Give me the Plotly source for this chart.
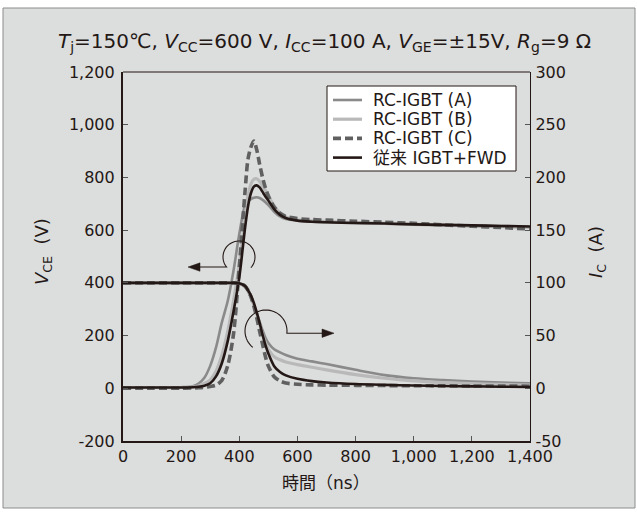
import numpy as np
import plotly.graph_objects as go

# Turn-off waveforms: collector-emitter voltage (left axis) and collector current (right axis)
time_ns = [0, 100, 200, 240, 260, 280, 300, 320, 340, 360, 380, 400, 420, 430, 440, 450,
           460, 470, 480, 490, 500, 520, 540, 560, 600, 650, 700, 800, 900, 1000, 1100,
           1200, 1300, 1400]

vce_a = [3, 3, 4, 8, 18, 40, 85, 155, 250, 330, 445, 585, 695, 710, 718, 723,
         725, 722, 715, 706, 695, 670, 652, 642, 636, 632, 630, 627, 624, 621, 618,
         615, 613, 611]
vce_b = [3, 3, 3, 5, 9, 18, 32, 65, 125, 215, 330, 470, 650, 730, 775, 793,
         795, 785, 768, 750, 730, 692, 665, 650, 639, 635, 633, 629, 626, 623, 620,
         617, 615, 612]
vce_c = [0, 0, 0, 1, 2, 4, 7, 12, 30, 85, 205, 460, 750, 870, 915, 938,
         905, 850, 800, 760, 730, 688, 664, 652, 644, 640, 638, 634, 630, 626, 620,
         615, 610, 604]
vce_conv = [3, 3, 3, 4, 6, 10, 19, 45, 95, 178, 290, 420, 610, 690, 740, 765,
            770, 762, 745, 728, 712, 680, 658, 646, 636, 632, 630, 627, 625, 622, 620,
            618, 616, 614]

ic_a = [100, 100, 100, 100, 100, 100, 100, 100, 100, 100, 100, 99.5, 96, 92, 86, 79,
        71, 63, 55, 48, 43, 37, 34, 31.5, 28, 25.5, 23, 17.5, 12.5, 9.5, 7.8,
        6.5, 5.5, 4.7]
ic_b = [100, 100, 100, 100, 100, 100, 100, 100, 100, 100, 100, 99.5, 96.5, 93, 87.5, 80,
        71, 61, 51, 43, 37, 30, 27, 25, 22.5, 20, 17.5, 13, 9.5, 7, 5.5,
        4.5, 3.7, 3]
ic_c = [100, 100, 100, 100, 100, 100, 100, 100, 100, 100, 100, 99.5, 97, 93, 87, 78,
        67, 54, 42, 30, 21, 11, 7, 5, 3.8, 3.2, 3, 2.8, 2.6, 2.4, 2.3,
        2.2, 2.1, 2]
ic_conv = [100, 100, 100, 100, 100, 100, 100, 100, 100, 100, 100, 99.5, 97, 93, 88, 81,
           72, 62, 51, 41, 33, 21, 15.5, 12.3, 9, 6.8, 5.5, 4, 3.2, 2.6, 2.2,
           1.8, 1.5, 1.2]

series_names = ["RC-IGBT (A)", "RC-IGBT (B)", "RC-IGBT (C)", "従来 IGBT+FWD"]

x_ticks = [0, 200, 400, 600, 800, 1000, 1200, 1400]
x_ticktext = ["0", "200", "400", "600", "800", "1,000", "1,200", "1,400"]
v_ticks = [-200, 0, 200, 400, 600, 800, 1000, 1200]
v_ticktext = ["-200", "0", "200", "400", "600", "800", "1,000", "1,200"]
i_ticks = [-50, 0, 50, 100, 150, 200, 250, 300]
i_ticktext = ["-50", "0", "50", "100", "150", "200", "250", "300"]

INK = "#231815"
FONT = "DejaVu Sans, Noto Sans CJK JP"
W, H = 637, 513
L, R, T, B = 123, 530, 72, 441          # plot area edges in pixels
X_RANGE = [0, 1400]
V_RANGE = [-200, 1200]

styles = [
    dict(color="#8a8a8a", width=2.6),
    dict(color="#b9b9b9", width=3.2),
    dict(color="#606060", width=3.6, dash="8px,4px"),
    dict(color=INK, width=2.6),
]

fig = go.Figure()
for name, v, i, st in zip(series_names, [vce_a, vce_b, vce_c, vce_conv],
                          [ic_a, ic_b, ic_c, ic_conv], styles):
    fig.add_trace(go.Scatter(x=time_ns, y=v, mode="lines", name=name, legendgroup=name,
                             line=dict(shape="spline", smoothing=0.8, **st)))
    fig.add_trace(go.Scatter(x=time_ns, y=i, mode="lines", name=name, legendgroup=name,
                             yaxis="y2", line=dict(shape="spline", smoothing=0.8, **st)))


def to_data(px, py):
    """Pixel position -> (time, voltage) in the primary axes."""
    t = X_RANGE[0] + (px - L) / (R - L) * (X_RANGE[1] - X_RANGE[0])
    v = V_RANGE[1] - (py - T) / (B - T) * (V_RANGE[1] - V_RANGE[0])
    return t, v


def to_paper(px, py):
    return (px - L) / (R - L), (B - py) / (B - T)


def loop_arrow(cx, cy, r, a0, a1, tip_x, direction):
    """Circular loop ending in a straight leader with a filled head."""
    ang = np.radians(np.linspace(a0, a1, 40))
    pts = [(cx + r * np.cos(a), cy - r * np.sin(a)) for a in ang]
    ex, ey = pts[-1]
    pts.append((tip_x - direction * 10, ey))
    d = ""
    for k, (px, py) in enumerate(pts):
        t, v = to_data(px, py)
        d += ("M" if k == 0 else "L") + f"{t:.2f},{v:.2f} "
    head = [(tip_x, ey), (tip_x - direction * 12, ey - 4.2), (tip_x - direction * 12, ey + 4.2)]
    hd = ""
    for k, (px, py) in enumerate(head):
        t, v = to_data(px, py)
        hd += ("M" if k == 0 else "L") + f"{t:.2f},{v:.2f} "
    hd += "Z"
    return [
        dict(type="path", xref="x", yref="y", path=d.strip(),
             line=dict(color=INK, width=1.1)),
        dict(type="path", xref="x", yref="y", path=hd,
             line=dict(color=INK, width=0.5), fillcolor=INK),
    ]


shapes = []
annotations = []

# grey panel with thin frame behind everything
x0, y0 = to_paper(3, 508)
x1, y1 = to_paper(635, 8)
shapes.append(dict(type="rect", xref="paper", yref="paper", x0=x0, y0=y0, x1=x1, y1=y1,
                   layer="below", fillcolor="#dcdddd", line=dict(color="#8c8c8c", width=1)))
# top edge of the plot frame
shapes.append(dict(type="line", xref="paper", yref="paper", x0=0, x1=1, y0=1, y1=1,
                   line=dict(color=INK, width=1.2)))
# loop arrows pointing at each axis
shapes += loop_arrow(239, 257, 16, -42, 219, 188, -1)
shapes += loop_arrow(266, 331, 21, 231, -6, 334, 1)

# legend box: line samples share the trace styles
bx0, by0 = to_paper(327, 171)
bx1, by1 = to_paper(516, 86)
shapes.append(dict(type="rect", xref="paper", yref="paper", x0=bx0, y0=by0, x1=bx1, y1=by1,
                   fillcolor="white", line=dict(color=INK, width=1)))
for k, (name, st) in enumerate(zip(series_names, styles)):
    row_y = 100 + 19.2 * k
    sx0, sy = to_paper(333, row_y)
    sx1, _ = to_paper(362, row_y)
    shapes.append(dict(type="line", xref="paper", yref="paper", x0=sx0, x1=sx1, y0=sy, y1=sy,
                       line=dict(color=st["color"], width=st["width"], dash=st.get("dash"))))
    tx0, _ = to_paper(371, row_y)
    annotations.append(dict(xref="paper", yref="paper", x=tx0, y=sy, showarrow=False,
                            xanchor="left", yanchor="middle", text=name,
                            font=dict(family=FONT, size=17, color=INK)))

tx, ty = to_paper(324, 42)
annotations.append(dict(
    xref="paper", yref="paper", x=tx, y=ty, showarrow=False, xanchor="center", yanchor="middle",
    text="<i>T</i><sub>j</sub>=150℃, <i>V</i><sub>CC</sub>=600 V, <i>I</i><sub>CC</sub>=100 A, "
         "<i>V</i><sub>GE</sub>=±15V, <i>R</i><sub>g</sub>=9 Ω",
    font=dict(family=FONT, size=20, color=INK)))
lx, ly = to_paper(43, 252)
annotations.append(dict(
    xref="paper", yref="paper", x=lx, y=ly, showarrow=False, textangle=-90,
    xanchor="center", yanchor="middle", text="<i>V</i><sub>CE</sub>  (V)",
    font=dict(family=FONT, size=18, color=INK)))
rx, ry = to_paper(597, 252)
annotations.append(dict(
    xref="paper", yref="paper", x=rx, y=ry, showarrow=False, textangle=-90,
    xanchor="center", yanchor="middle", text="<i>I</i><sub>C</sub>  (A)",
    font=dict(family=FONT, size=18, color=INK)))
bx, by = to_paper(326, 483)
annotations.append(dict(
    xref="paper", yref="paper", x=bx, y=by, showarrow=False,
    xanchor="center", yanchor="middle", text="時間（ns）",
    font=dict(family=FONT, size=17, color=INK)))

axis_common = dict(showgrid=False, zeroline=False, showline=True, linecolor=INK,
                   ticks="inside", ticklen=5, tickwidth=1, tickcolor="#555555",
                   tickfont=dict(family=FONT, size=16, color=INK))

fig.update_layout(
    width=W, height=H,
    margin=dict(l=L, r=W - R, t=T, b=H - B, pad=0),
    paper_bgcolor="white", plot_bgcolor="white",
    font=dict(family=FONT, color=INK),
    xaxis=dict(range=X_RANGE, tickvals=x_ticks, ticktext=x_ticktext, linewidth=2.2,
               **axis_common),
    yaxis=dict(range=V_RANGE, tickvals=v_ticks, ticktext=v_ticktext, linewidth=2.2,
               ticklabelstandoff=3, **axis_common),
    yaxis2=dict(range=[-50, 300], tickvals=i_ticks, ticktext=i_ticktext, overlaying="y",
                side="right", linewidth=1.4, ticklabelstandoff=1, **axis_common),
    shapes=shapes, annotations=annotations, showlegend=False,
)

fig.write_html("out.html")
